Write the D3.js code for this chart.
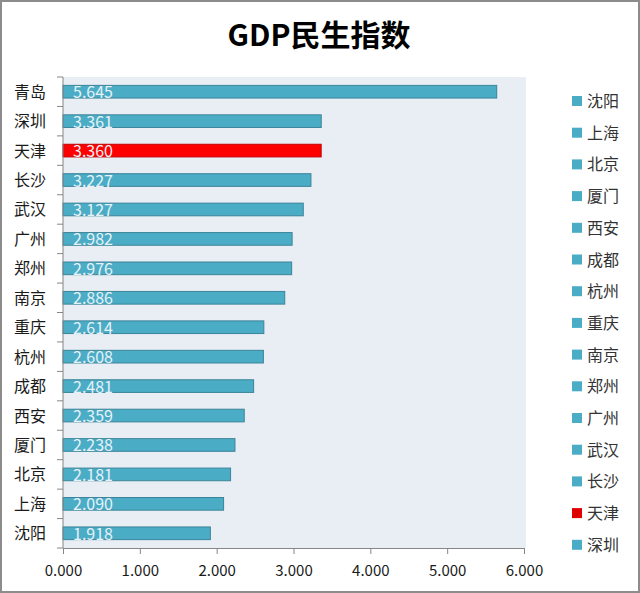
<!DOCTYPE html>
<html>
<head>
<meta charset="utf-8">
<script src="https://cdn.jsdelivr.net/npm/d3@7"></script>
<style>
  body { margin: 0; background: #fff; }
  svg { display: block; }
</style>
</head>
<body>
<script>
// data, top to bottom
var cities = ["青岛", "深圳", "天津", "长沙", "武汉", "广州", "郑州", "南京",
              "重庆", "杭州", "成都", "西安", "厦门", "北京", "上海", "沈阳"];
var values = [5.645, 3.361, 3.360, 3.227, 3.127, 2.982, 2.976, 2.886,
              2.614, 2.608, 2.481, 2.359, 2.238, 2.181, 2.090, 1.918];
var highlight = "天津";
var legendCities = ["沈阳", "上海", "北京", "厦门", "西安", "成都", "杭州", "重庆",
                    "南京", "郑州", "广州", "武汉", "长沙", "天津", "深圳"];
var xTicks = [0, 1, 2, 3, 4, 5, 6];

var data = cities.map(function(c, i) { return {city: c, value: values[i]}; });

var width = 640, height = 593;
var font = "'Noto Sans CJK SC', 'Liberation Sans', sans-serif";
var barColor = "#4bacc6", hiColor = "#ff0000";

var svg = d3.select("body").append("svg")
    .attr("width", width)
    .attr("height", height);

// outer frame
svg.append("rect")
    .attr("x", 1).attr("y", 1)
    .attr("width", width - 2).attr("height", height - 2)
    .attr("fill", "#fff")
    .attr("stroke", "#8c8c8c")
    .attr("stroke-width", 2);

svg.append("text")
    .attr("x", 319).attr("y", 46)
    .attr("text-anchor", "middle")
    .attr("font-family", font)
    .attr("font-weight", "bold")
    .attr("font-size", 30)
    .attr("fill", "#000")
    .text("GDP民生指数");

var xScale = d3.scaleLinear().domain([0, 6]).range([63, 524]);
var yScale = d3.scaleBand().domain(cities).range([77, 548]).paddingInner(0.57).paddingOuter(0.285);

// plot background
svg.append("rect")
    .attr("x", xScale(0)).attr("y", 77)
    .attr("width", xScale(6) - xScale(0) + 2).attr("height", 548 - 77)
    .attr("fill", "#e8eef4");

svg.selectAll("rect.bar")
    .data(data)
    .enter()
    .append("rect")
    .attr("class", "bar")
    .attr("x", xScale(0))
    .attr("y", function(d) { return yScale(d.city); })
    .attr("width", function(d) { return xScale(d.value) - xScale(0); })
    .attr("height", yScale.bandwidth())
    .attr("fill", function(d) { return d.city == highlight ? hiColor : barColor; })
    .attr("stroke", function(d) { return d.city == highlight ? "#c00000" : "#3b8499"; })
    .attr("stroke-width", 1);

svg.selectAll("text.val")
    .data(data)
    .enter()
    .append("text")
    .attr("class", "val")
    .attr("x", xScale(0) + 10)
    .attr("y", function(d) { return yScale(d.city) + yScale.bandwidth() / 2 + 6.5; })
    .attr("font-family", font)
    .attr("font-size", 16)
    .attr("fill", "#e6f2f8")
    .text(function(d) { return d3.format(".3f")(d.value); });

// y axis: line + ticks at band edges
var yAxis = svg.append("g");
yAxis.append("line")
    .attr("x1", 63).attr("x2", 63).attr("y1", 77).attr("y2", 548)
    .attr("stroke", "#868686");
yAxis.selectAll("line.tick")
    .data(d3.range(cities.length + 1))
    .enter()
    .append("line")
    .attr("class", "tick")
    .attr("x1", 57).attr("x2", 63)
    .attr("y1", function(i) { return 77 + i * yScale.step(); })
    .attr("y2", function(i) { return 77 + i * yScale.step(); })
    .attr("stroke", "#868686");
yAxis.selectAll("text")
    .data(cities)
    .enter()
    .append("text")
    .attr("x", 46)
    .attr("y", function(d) { return yScale(d) + yScale.bandwidth() / 2 + 6; })
    .attr("text-anchor", "end")
    .attr("font-family", font)
    .attr("font-size", 16)
    .attr("fill", "#1a1a1a")
    .text(function(d) { return d; });

// x axis
var xAxis = d3.axisBottom(xScale)
    .tickValues(xTicks)
    .tickFormat(d3.format(".3f"))
    .tickSize(6)
    .tickSizeOuter(0);
var gx = svg.append("g")
    .attr("transform", "translate(0,548)")
    .call(xAxis);
gx.select(".domain").attr("stroke", "#868686");
gx.selectAll(".tick line").attr("stroke", "#868686");
gx.selectAll(".tick text")
    .attr("font-family", font)
    .attr("font-size", 15)
    .attr("fill", "#1a1a1a")
    .attr("dy", "1.25em");

// legend
var legend = svg.selectAll("g.legend")
    .data(legendCities)
    .enter()
    .append("g")
    .attr("class", "legend")
    .attr("transform", function(d, i) { return "translate(572," + (101 + i * 31.7) + ")"; });
legend.append("rect")
    .attr("x", 0).attr("y", -5)
    .attr("width", 10).attr("height", 10)
    .attr("fill", function(d) { return d == highlight ? "#e00000" : barColor; });
legend.append("text")
    .attr("x", 15).attr("y", 6)
    .attr("font-family", font)
    .attr("font-size", 16)
    .attr("fill", "#333")
    .text(function(d) { return d; });
</script>
</body>
</html>
